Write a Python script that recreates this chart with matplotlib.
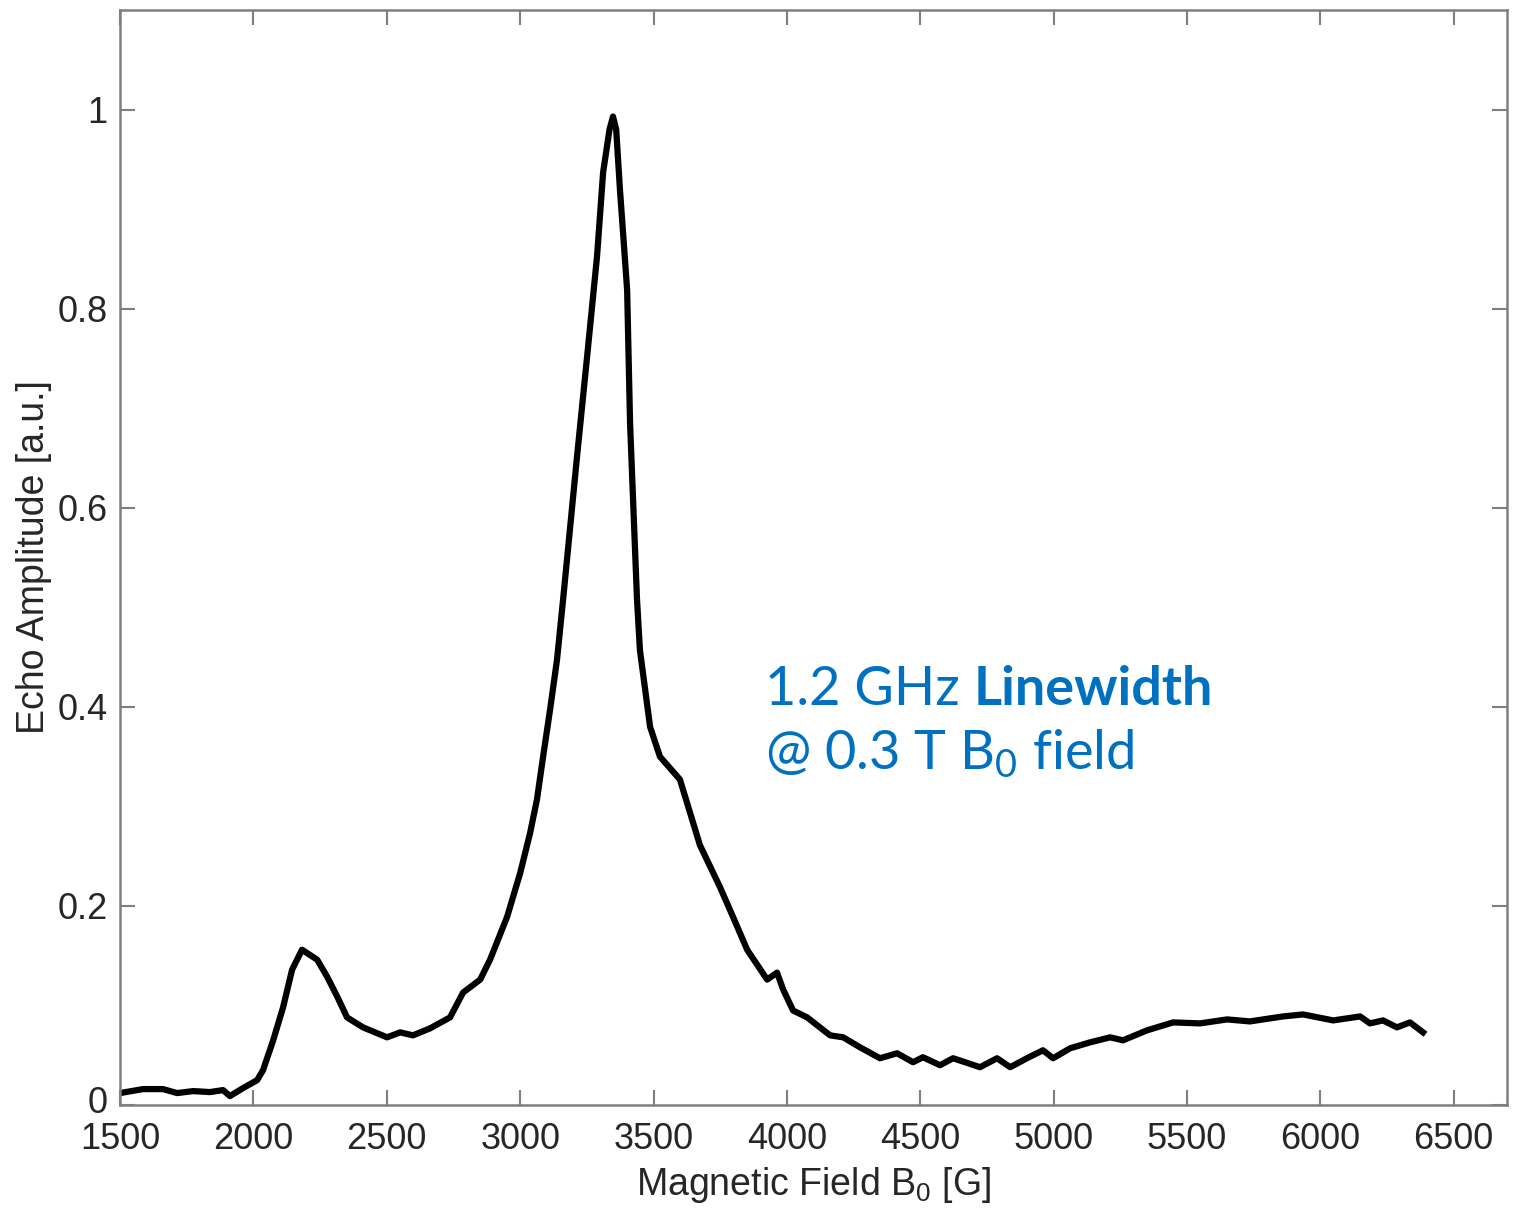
#!/usr/bin/env python3
"""
Espectro de eco: amplitud vs campo magnético B0
"""

import numpy as np
import matplotlib.pyplot as plt
from matplotlib.transforms import ScaledTranslation

# Campo magnético [G] y amplitud de eco [a.u.]
campo = [1500, 1586, 1661, 1714, 1774, 1837, 1886, 1912, 1961, 2014,
         2036, 2074, 2111, 2145, 2182, 2239, 2276, 2314, 2351, 2411,
         2501, 2550, 2598, 2662, 2737, 2786, 2850, 2887, 2951, 3000,
         3037, 3063, 3086, 3112, 3138, 3161, 3213, 3251, 3288, 3311,
         3335, 3348, 3360, 3374, 3401, 3412, 3438, 3449, 3487, 3524, 3599, 3674,
         3749, 3798, 3851, 3926, 3963, 3986, 4023, 4076, 4162, 4211,
         4274, 4349, 4413, 4473, 4510, 4574, 4623, 4724, 4788, 4837,
         4900, 4960, 4998, 5062, 5137, 5212, 5260, 5350, 5448, 5549,
         5650, 5736, 5860, 5935, 6048, 6149, 6186, 6235, 6287, 6336,
         6385]
amplitud = [0.012, 0.016, 0.016, 0.012, 0.014, 0.013, 0.015, 0.009, 0.017, 0.025,
            0.035, 0.065, 0.098, 0.136, 0.156, 0.146, 0.129, 0.109, 0.088, 0.078,
            0.068, 0.073, 0.070, 0.077, 0.088, 0.113, 0.126, 0.146, 0.189, 0.233,
            0.273, 0.307, 0.350, 0.397, 0.447, 0.508, 0.651, 0.752, 0.852, 0.937,
            0.980, 0.993, 0.980, 0.920, 0.819, 0.685, 0.508, 0.457, 0.380, 0.350, 0.327, 0.261,
            0.219, 0.189, 0.156, 0.126, 0.133, 0.116, 0.095, 0.088, 0.070, 0.068,
            0.058, 0.047, 0.052, 0.043, 0.048, 0.040, 0.047, 0.038, 0.047, 0.038,
            0.047, 0.055, 0.047, 0.057, 0.063, 0.068, 0.065, 0.075, 0.083, 0.082,
            0.086, 0.084, 0.089, 0.091, 0.085, 0.089, 0.082, 0.085, 0.078, 0.083,
            0.073]

xticks = [1500, 2000, 2500, 3000, 3500, 4000, 4500, 5000, 5500, 6000, 6500]
yticks = [0, 0.2, 0.4, 0.6, 0.8, 1]
yticklabels = ['0', '0.2', '0.4', '0.6', '0.8', '1']

plt.rcParams['font.family'] = ['Liberation Sans', 'DejaVu Sans']

fig = plt.figure(figsize=(15.18, 12.09), dpi=100)
ax = fig.add_axes([0.0791, 0.0860, 0.9137, 0.9057])

ax.plot(campo, amplitud, color='black', linewidth=4.5, solid_joinstyle='round')

ax.set_xlim(1500, 6700)
ax.set_ylim(0, 1.1)
ax.set_xticks(xticks)
ax.set_yticks(yticks)
ax.set_yticklabels(yticklabels)

gris = '#7f7f7f'
for s in ax.spines.values():
    s.set_color(gris)
    s.set_linewidth(1.8)
ax.tick_params(direction='in', length=11, width=1.5, color=gris,
               top=True, right=True, labelsize=26, labelcolor='#262626')
ax.tick_params(axis='x', pad=12)
ax.tick_params(axis='y', pad=9)

# el "0" del eje y un poco hacia arriba para no pisar "1500"
lbl0 = ax.get_yticklabels()[0]
lbl0.set_transform(lbl0.get_transform() + ScaledTranslation(0, 4 / 72, fig.dpi_scale_trans))

ax.set_xlabel('Magnetic Field B$\\mathregular{_0}$ [G]', fontsize=27,
              color='#262626', labelpad=6)
ax.set_ylabel('Echo Amplitude [a.u.]', fontsize=27, color='#262626', labelpad=4)

azul = '#0070C0'
t1 = ax.text(3918, 0.402, '1.2 GHz ', fontsize=39, color=azul,
             family='Lato', va='baseline', ha='left')
ax.annotate('Linewidth', xy=(1, 0), xycoords=t1, fontsize=39, color=azul,
            family='Lato', fontweight='bold', va='bottom', ha='left')
ax.text(3918, 0.337, '@ 0.3 T B$\\mathregular{_0}$ field', fontsize=39, color=azul,
        family='Lato', va='baseline', ha='left')

fig.savefig('out.png', dpi=100)
